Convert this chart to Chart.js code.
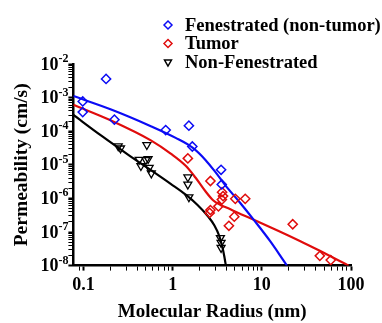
<!DOCTYPE html>
<html>
<head>
<meta charset="utf-8">
<script src="https://cdn.jsdelivr.net/npm/chart.js@4.4.0/dist/chart.umd.min.js"></script>
<style>
  body { margin: 0; background: #fff; }
  #wrap { width: 382px; height: 323px; }
</style>
</head>
<body>
<div id="wrap"><canvas id="myChart" width="382" height="323"></canvas></div>
<script>
// measured points (x = molecular radius in nm, y = permeability in cm/s)
const fenX = [0.098, 0.098, 0.179, 0.222, 0.835, 1.52, 1.66, 3.49, 3.55];
const fenY = [7.7e-4, 3.7e-4, 3.6e-3, 2.2e-4, 1.08e-4, 1.46e-4, 3.5e-5, 7.1e-6, 2.6e-6];

const tumX = [1.48, 2.65, 3.58, 3.67, 3.56, 5.04, 6.51, 2.65, 2.6, 3.26, 4.91, 4.27, 22.2, 44.7, 59.3];
const tumY = [1.55e-5, 3.3e-6, 1.53e-6, 1.17e-6, 9.2e-7, 9.7e-7, 9.7e-7, 4.5e-7, 3.7e-7, 5.8e-7, 2.86e-7, 1.53e-7, 1.7e-7, 1.95e-8, 1.46e-8];

const nonX = [0.245, 0.26, 0.513, 0.421, 0.44, 0.5, 0.53, 0.545, 0.576, 1.48, 1.48, 1.52, 3.43, 3.49, 3.49];
const nonY = [3.6e-5, 3.1e-5, 3.9e-5, 1.43e-5, 9.3e-6, 1.4e-5, 1.5e-5, 8.2e-6, 5.6e-6, 4.3e-6, 2.6e-6, 1.09e-6, 6.7e-8, 4.8e-8, 3.4e-8];

// fitted curves
const fenFitX = [0.077, 0.204, 0.569, 1.08, 1.67, 2.33, 3.02, 3.9, 5.73, 8.42, 12.4, 16.4, 19.1];
const fenFitY = [1.11e-3, 4.42e-4, 1.41e-4, 6.32e-5, 3.23e-5, 1.40e-5, 6.04e-6, 2.44e-6, 7.31e-7, 2.04e-7, 5.34e-8, 1.83e-8, 1e-8];

const tumFitX = [0.077, 0.204, 0.569, 0.95, 1.40, 1.80, 2.33, 2.86, 3.43, 4.21, 4.79, 8.0, 15.2, 26.7, 44.7, 74.6, 94];
const tumFitY = [6.1e-4, 2.08e-4, 5.35e-5, 2.16e-5, 9.35e-6, 4.18e-6, 1.63e-6, 8.65e-7, 6.4e-7, 5.05e-7, 4.28e-7, 2.35e-7, 1.09e-7, 5.4e-8, 2.75e-8, 1.38e-8, 1e-8];

const nonFitX = [0.077, 0.157, 0.315, 0.569, 0.95, 1.40, 1.90, 2.46, 2.94, 3.34, 3.61, 3.80, 3.95];
const nonFitY = [3.05e-4, 7.48e-5, 2.02e-5, 6.92e-6, 2.7e-6, 1.29e-6, 6.38e-7, 3.05e-7, 1.56e-7, 7.47e-8, 3.57e-8, 1.83e-8, 1e-8];

const xMajor = [0.1, 1, 10, 100];
const xLabels = ['0.1', '1', '10', '100'];
const yMajor = [1e-8, 1e-7, 1e-6, 1e-5, 1e-4, 1e-3, 1e-2];
const yExp = ['-8', '-7', '-6', '-5', '-4', '-3', '-2'];
const legendNames = ['Fenestrated (non-tumor)', 'Tumor', 'Non-Fenestrated'];

const BLUE = '#0b0bf5';
const RED = '#e00c0c';
const BLACK = '#000000';
const SERIF = '"Liberation Serif", "Times New Roman", serif';

Chart.defaults.font.family = SERIF;
Chart.defaults.font.weight = 'bold';
Chart.defaults.font.size = 18;
Chart.defaults.color = '#000';

function pts(xs, ys) {
  return xs.map((x, i) => ({x: x, y: ys[i]}));
}

function sameDecade(a, b) {
  return Math.abs(Math.log10(a) - Math.log10(b)) < 1e-6;
}

function isDecade(v) {
  const l = Math.log10(v);
  return Math.abs(l - Math.round(l)) < 1e-6;
}

// drop the 1.5 ticks and the bare min tick, keep 1..9 in each decade
function keepWhole(scale) {
  scale.ticks = scale.ticks.filter(t => {
    const s = t.value / Math.pow(10, Math.floor(Math.log10(t.value) + 1e-9));
    return Math.abs(s - Math.round(s)) < 1e-6;
  });
}

// y labels as 10 with a raised exponent
const powerLabels = {
  id: 'powerLabels',
  afterDraw(chart) {
    const c = chart.ctx;
    const sc = chart.scales.y;
    c.save();
    c.fillStyle = '#000';
    c.textBaseline = 'middle';
    c.textAlign = 'right';
    yMajor.forEach((v, i) => {
      const py = sc.getPixelForValue(v);
      const right = sc.right - 5;
      c.font = 'bold 12px ' + SERIF;
      c.fillText(yExp[i], right, py - 5);
      const w = c.measureText(yExp[i]).width;
      c.font = 'bold 18px ' + SERIF;
      c.fillText('10', right - w, py + 1);
    });
    c.restore();
  }
};

// legend in the upper right, three rows
const sideLegend = {
  id: 'sideLegend',
  afterDraw(chart) {
    const c = chart.ctx;
    c.save();
    for (let i = 0; i < 3; i++) {
      const ds = chart.data.datasets[i];
      const y = 25 + i * 18.5;
      c.strokeStyle = ds.borderColor;
      c.fillStyle = 'rgba(0,0,0,0)';
      c.lineWidth = 1.5;
      Chart.helpers.drawPoint(c, {pointStyle: ds.pointStyle, rotation: ds.rotation || 0, radius: 4, borderWidth: 1.5}, 168, y);
      c.fillStyle = '#000';
      c.font = 'bold 18.5px ' + SERIF;
      c.textBaseline = 'middle';
      c.textAlign = 'left';
      c.fillText(legendNames[i], 185, y + 1);
    }
    c.restore();
  }
};

const ctx = document.getElementById('myChart');

const chart = new Chart(ctx, {
  type: 'scatter',
  data: {
    datasets: [
      {
        label: legendNames[0],
        data: pts(fenX, fenY),
        pointStyle: 'rectRot',
        pointRadius: 4.6,
        borderColor: BLUE,
        backgroundColor: 'rgba(0,0,0,0)',
        borderWidth: 1.5
      },
      {
        label: legendNames[1],
        data: pts(tumX, tumY),
        pointStyle: 'rectRot',
        pointRadius: 4.6,
        borderColor: RED,
        backgroundColor: 'rgba(0,0,0,0)',
        borderWidth: 1.5
      },
      {
        label: legendNames[2],
        data: pts(nonX, nonY),
        pointStyle: 'triangle',
        rotation: 180,
        pointRadius: 4.6,
        borderColor: BLACK,
        backgroundColor: 'rgba(0,0,0,0)',
        borderWidth: 1.3
      },
      {
        label: 'fen fit',
        data: pts(fenFitX, fenFitY),
        showLine: true,
        pointRadius: 0,
        borderColor: BLUE,
        borderWidth: 2.2,
        cubicInterpolationMode: 'monotone'
      },
      {
        label: 'tumor fit',
        data: pts(tumFitX, tumFitY),
        showLine: true,
        pointRadius: 0,
        borderColor: RED,
        borderWidth: 2.2,
        cubicInterpolationMode: 'monotone'
      },
      {
        label: 'non fit',
        data: pts(nonFitX, nonFitY),
        showLine: true,
        pointRadius: 0,
        borderColor: BLACK,
        borderWidth: 2.2,
        cubicInterpolationMode: 'monotone'
      }
    ]
  },
  options: {
    responsive: false,
    animation: false,
    layout: {
      padding: {top: 64, right: 31, bottom: 0, left: 4}
    },
    plugins: {
      legend: {display: false},
      tooltip: {enabled: false}
    },
    scales: {
      x: {
        type: 'logarithmic',
        min: 0.077,
        max: 100,
        afterBuildTicks: keepWhole,
        ticks: {
          autoSkip: false,
          maxRotation: 0,
          padding: 4,
          callback: function(v) {
            const i = xMajor.findIndex(m => sameDecade(m, v));
            return i >= 0 ? xLabels[i] : '';
          }
        },
        grid: {
          drawOnChartArea: false,
          tickLength: 5,
          tickColor: '#000',
          tickWidth: c => (c.tick && isDecade(c.tick.value)) ? 2 : 1
        },
        border: {color: '#000', width: 2.5},
        title: {
          display: true,
          text: 'Molecular Radius (nm)',
          font: {size: 19},
          padding: {top: 0, bottom: 0}
        }
      },
      y: {
        type: 'logarithmic',
        min: 1e-8,
        max: 1e-2,
        afterBuildTicks: keepWhole,
        ticks: {
          autoSkip: false,
          padding: 1,
          color: 'rgba(0,0,0,0)',
          callback: function(v) {
            const i = yMajor.findIndex(m => sameDecade(m, v));
            return i >= 0 ? '10' + yExp[i] : '';
          }
        },
        grid: {
          drawOnChartArea: false,
          tickLength: 5,
          tickColor: '#000',
          tickWidth: c => (c.tick && isDecade(c.tick.value)) ? 2 : 1
        },
        border: {color: '#000', width: 2.5},
        title: {
          display: true,
          text: 'Permeability (cm/s)',
          font: {size: 19.5},
          padding: {top: 6, bottom: 0}
        }
      }
    }
  },
  plugins: [powerLabels, sideLegend]
});
</script>
</body>
</html>
